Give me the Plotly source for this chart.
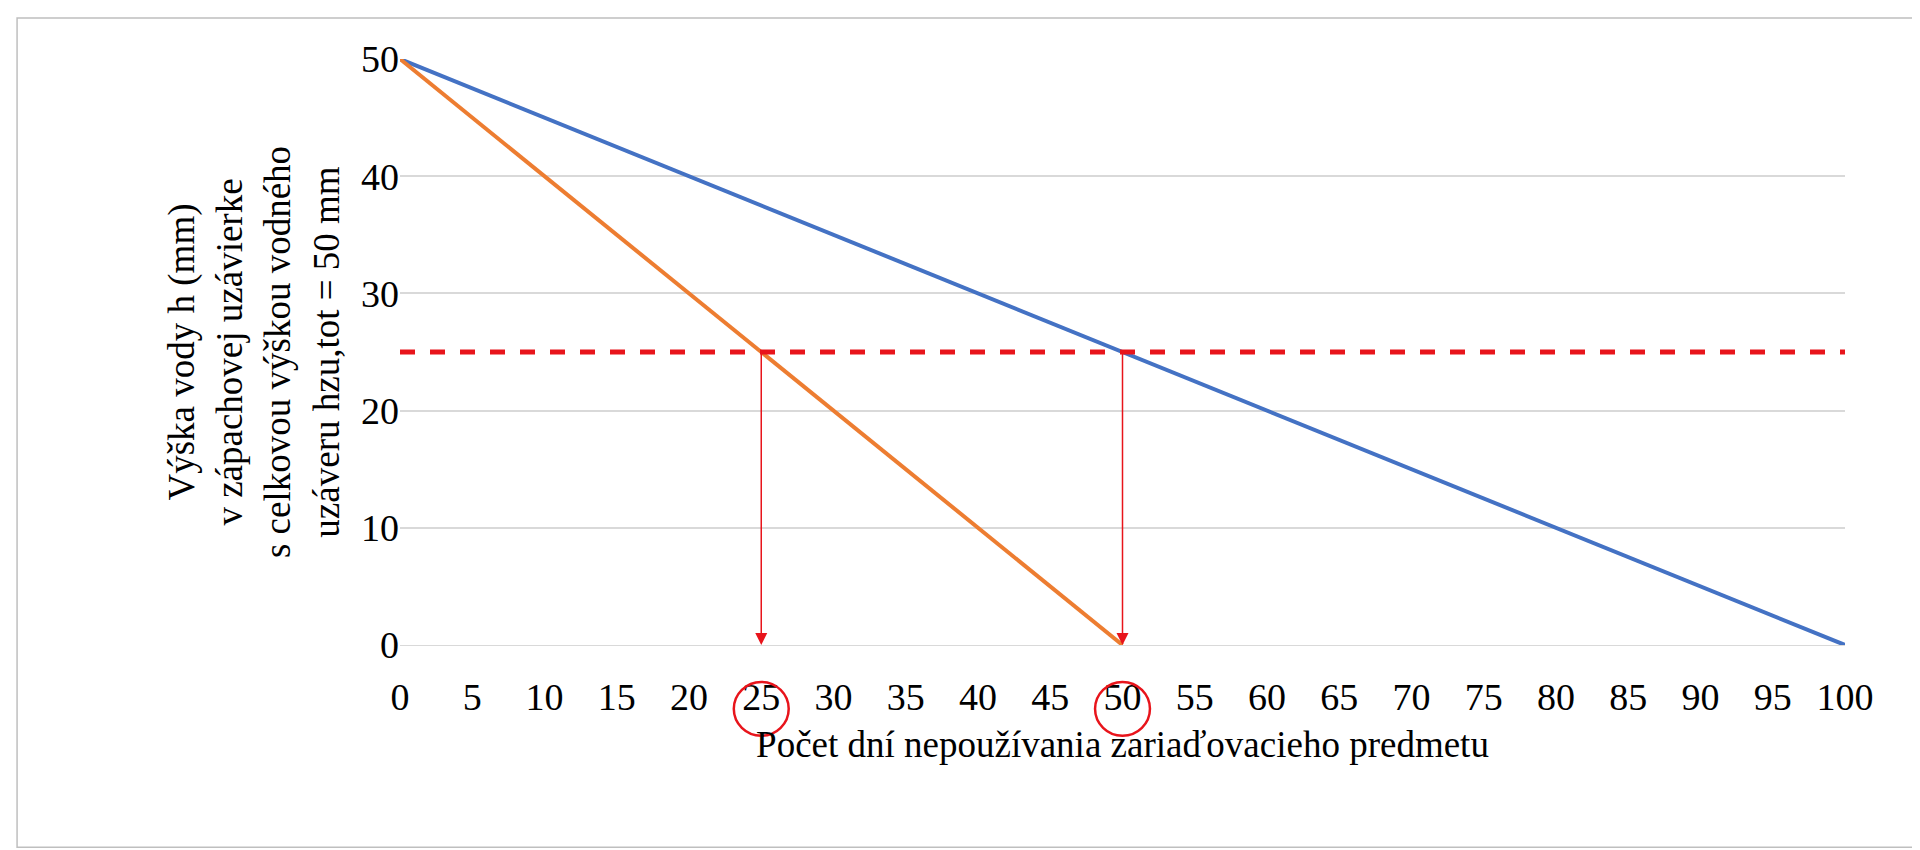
import plotly.graph_objs as go

days = [0, 100]
h_blue = [50, 0]
days_orange = [0, 50]
h_orange = [50, 0]
limit_h = 25
marked_days = [25, 50]
xticks = list(range(0, 101, 5))
yticks = list(range(0, 51, 10))

fnt = "Liberation Serif, Times New Roman, serif"

fig = go.Figure()
fig.add_trace(go.Scatter(x=days, y=h_blue, mode='lines', line=dict(color='#4472C4', width=4)))
fig.add_trace(go.Scatter(x=days_orange, y=h_orange, mode='lines', line=dict(color='#ED7D31', width=4)))
fig.add_trace(go.Scatter(x=[0, 100], y=[limit_h, limit_h], mode='lines',
                         line=dict(color='#E8141B', width=5, dash='dash')))

for d in marked_days:
    fig.add_annotation(x=d, y=0, ax=d, ay=limit_h, xref='x', yref='y', axref='x', ayref='y',
                       showarrow=True, arrowhead=2, arrowsize=1.6, arrowwidth=1.5,
                       arrowcolor='#E8141B', text='')
    fig.add_shape(type='circle', xref='x', yref='paper', x0=d - 1.9, x1=d + 1.9,
                  y0=-0.155, y1=-0.063, line=dict(color='#E8141B', width=2.5))

fig.add_shape(type='rect', xref='paper', yref='paper', x0=-0.265, x1=1.052, y0=-0.345, y1=1.07,
              line=dict(color='#BFBFBF', width=1.5))

fig.update_layout(
    width=1920, height=850, showlegend=False,
    plot_bgcolor='white', paper_bgcolor='white',
    margin=dict(l=392, r=83, t=51, b=213),
    font=dict(family=fnt, size=38, color='black'),
    xaxis=dict(range=[0, 100], tickvals=xticks, showgrid=False, zeroline=False,
               showline=True, linecolor='#D9D9D9', ticks='outside', ticklen=18, tickcolor='white',
               title=dict(text='Počet dní nepoužívania zariaďovacieho predmetu', font=dict(size=37), standoff=14)),
    yaxis=dict(range=[0, 50], tickvals=yticks, showgrid=True, gridcolor='#D9D9D9', gridwidth=1.5,
               zeroline=False, ticks='', ticksuffix='  ',
               title=dict(text='Výška vody h (mm)<br>v zápachovej uzávierke<br>s celkovou výškou vodného<br>uzáveru hzu,tot = 50 mm',
                          font=dict(size=37), standoff=10)),
)

fig.write_html("out.html")
